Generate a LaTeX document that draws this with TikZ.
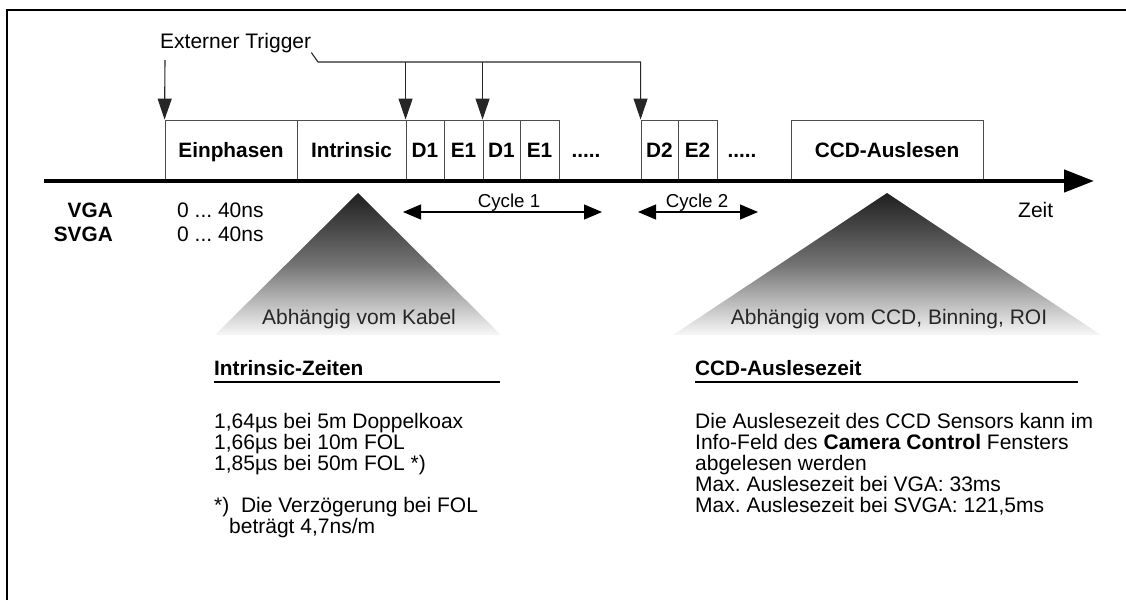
\documentclass[tikz,border=0pt]{standalone}
\usepackage{fontspec}
\setmainfont{Liberation Sans}
\usetikzlibrary{arrows.meta}
\frenchspacing
\begin{document}
\begin{tikzpicture}[x=1pt,y=-1pt,
  txt/.style={font=\fontsize{21}{21}\selectfont, inner sep=0pt, anchor=base west},
  txtc/.style={font=\fontsize{21}{21}\selectfont, inner sep=0pt, anchor=base},
  cyc/.style={font=\fontsize{18.7}{19}\selectfont, inner sep=0pt, anchor=base},
  box/.style={draw=black!70, line width=0.9pt, inner sep=0pt, minimum height=61pt,
    font=\fontsize{20.8}{21}\selectfont\bfseries, text height=14.9pt, text depth=0pt},
  dots/.style={inner sep=0pt, font=\fontsize{20.8}{21}\selectfont\bfseries, text height=14.9pt, text depth=0pt},
  trig/.style={line width=1.1pt, draw=black!85},
  trigarrow/.style={trig, -{Triangle[length=21pt,width=14pt]}},
  cycarrow/.style={line width=1.1pt, {Triangle[length=18pt,width=15pt]}-{Triangle[length=18pt,width=15pt]}},
  axisline/.style={line width=4.5pt, -{Triangle[length=30pt,width=22pt]}},
  head/.style={font=\fontsize{20.8}{21}\selectfont\bfseries, inner sep=0pt, anchor=base west},
  pyramid/.style={top color=black!88, bottom color=black!3, middle color=black!55}
]
\useasboundingbox (0,0) rectangle (1126,600);
% frame
\draw[line width=2pt] (7,600) -- (7,10) -- (1126,10);

% pyramids
\shade[pyramid] (358,193) -- (501,335) -- (215,335) -- cycle;
\shade[pyramid] (887,193) -- (1101,335) -- (673,335) -- cycle;
\node[txtc, text=black!85] (kab) at (359,324) {Abhängig vom Kabel};
\node[txtc, text=black!85] (ccdlab) at (889,324) {Abhängig vom CCD, Binning, ROI};

% boxes
\node[box, minimum width=132pt] (ein) at (231,150.5) {Einphasen};
\node[box, minimum width=109pt] (intr) at (351.5,150.5) {Intrinsic};
\node[box, minimum width=38pt] (d1a) at (425,150.5) {D1};
\node[box, minimum width=39pt] (e1a) at (463.5,150.5) {E1};
\node[box, minimum width=37pt] (d1b) at (501.5,150.5) {D1};
\node[box, minimum width=39pt] (e1b) at (539.5,150.5) {E1};
\node[dots] (dots1) at (586,150) {.....};
\node[box, minimum width=37pt] (d2) at (659.5,150.5) {D2};
\node[box, minimum width=39pt] (e2) at (697.5,150.5) {E2};
\node[dots] (dots2) at (742,150) {.....};
\node[box, minimum width=192pt] (ccd) at (887,150.5) {CCD-Auslesen};

% axis
\coordinate (ax0) at (44,181);
\coordinate (ax1) at (1094,181);
\draw[axisline] (ax0) -- (ax1);

% triggers
\node[txt] (ext) at (160,48) {Externer Trigger};
\coordinate (kink) at (318,62);
\draw[trigarrow] (ext.south east) -- (kink) -| (d2.north west);
\draw[trigarrow] (d1a.north west |- kink) -- (d1a.north west);
\draw[trigarrow] (d1b.north west |- kink) -- (d1b.north west);
\coordinate (lt) at (165,60);
\draw[trigarrow] (lt) -- (ein.north west);

% cycles
\coordinate (c1a) at (403,212);
\coordinate (c1b) at (602,212);
\draw[cycarrow] (c1a) -- (c1b);
\node[cyc] (c1) at (509,207) {Cycle 1};
\coordinate (c2a) at (638,212);
\coordinate (c2b) at (758,212);
\draw[cycarrow] (c2a) -- (c2b);
\node[cyc] (c2) at (697,207) {Cycle 2};

% VGA labels
\node[head, anchor=base east] (vga) at (113,217) {VGA};
\node[head, anchor=base east] (svga) at (113,241) {SVGA};
\node[txt] (vgat) at (177,217) {0 ... 40ns};
\node[txt] (svgat) at (177,241) {0 ... 40ns};
\node[txt] (zeit) at (1018,217) {Zeit};

% left text block
\node[head] (ih) at (214,375) {Intrinsic-Zeiten};
\draw[line width=2pt] (214,382) -- (500,382);
\node[txt] (l1) at (214,428) {1,64µs bei 5m Doppelkoax};
\node[txt] (l2) at (214,449) {1,66µs bei 10m FOL};
\node[txt] (l3) at (214,470) {1,85µs bei 50m FOL *)};
\node[txt] (l4) at (214,512) {*)\ \ Die Verzögerung bei FOL};
\node[txt] (l5) at (229,533) {beträgt 4,7ns/m};

% right text block
\node[head] (ch) at (695,375) {CCD-Auslesezeit};
\draw[line width=2pt] (695,382) -- (1078,382);
\node[txt] (r1) at (695,428) {Die Auslesezeit des CCD Sensors kann im};
\node[txt] (r2) at (695,449) {Info-Feld des \textbf{Camera Control} Fensters};
\node[txt] (r3) at (695,470) {abgelesen werden};
\node[txt] (r4) at (695,491) {Max. Auslesezeit bei VGA: 33ms};
\node[txt] (r5) at (695,512) {Max. Auslesezeit bei SVGA: 121,5ms};
\end{tikzpicture}
\end{document}
